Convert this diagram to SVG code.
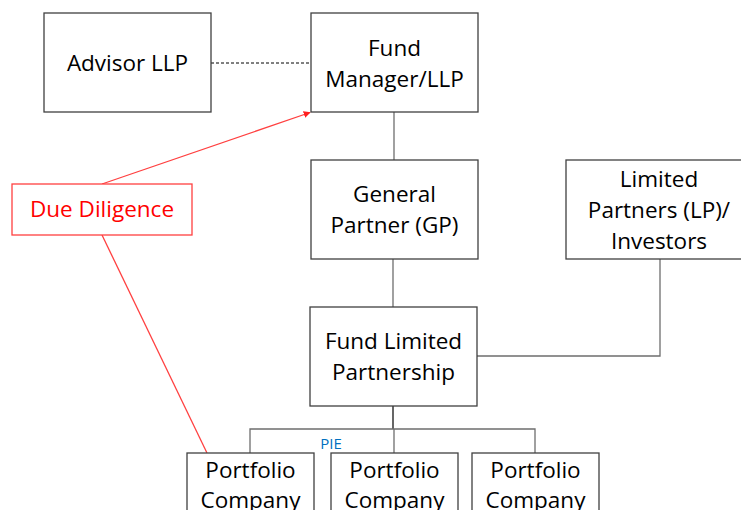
<svg xmlns="http://www.w3.org/2000/svg" width="741" height="510" viewBox="0 0 741 510">
<style>
.box{fill:#fff;stroke:#404040;stroke-width:1.3}
.t{font-family:"Open Sans","Liberation Sans",sans-serif;font-size:22.5px;fill:#000;text-anchor:middle}
.c{fill:none;stroke:#6e6e6e;stroke-width:1.3}
.r{fill:none;stroke:#ff4040;stroke-width:1.3}
</style>
<defs>
<marker id="ah" viewBox="0 0 10 10" refX="9" refY="5" markerWidth="7" markerHeight="7" orient="auto" markerUnits="userSpaceOnUse">
<path d="M0,0L10,5L0,10z" fill="#ff2020"/>
</marker>
</defs>
<rect width="741" height="510" fill="#fff"/>
<g id="connectors">
<line x1="211" y1="63" x2="311" y2="63" stroke="#000" stroke-width="1" stroke-dasharray="3,2"/>
<line class="c" x1="394" y1="112" x2="394" y2="160"/>
<line class="c" x1="393" y1="259" x2="393" y2="307"/>
<polyline class="c" points="477,356 660,356 660,259"/>
<line x1="393" y1="406" x2="393" y2="429" stroke="#404040" stroke-width="1.6"/>
<polyline class="c" points="250,453 250,429 535,429 535,453"/>
<line class="c" x1="394" y1="429" x2="394" y2="453"/>
<line class="r" x1="102" y1="184" x2="310" y2="112.5" marker-end="url(#ah)"/>
<line class="r" x1="102" y1="235" x2="207" y2="453"/>
</g>
<g id="advisor">
<rect class="box" x="44" y="13" width="167" height="99"/>
<text class="t" x="127.5" y="71">Advisor LLP</text>
</g>
<g id="fund-manager">
<rect class="box" x="311" y="13" width="167" height="99"/>
<text class="t" x="394.5" y="56">Fund</text>
<text class="t" x="394.5" y="87">Manager/LLP</text>
</g>
<g id="general-partner">
<rect class="box" x="311" y="160" width="167" height="99"/>
<text class="t" x="394.5" y="202">General</text>
<text class="t" x="394.5" y="233">Partner (GP)</text>
</g>
<g id="limited-partners">
<rect class="box" x="566" y="160" width="180" height="99"/>
<text class="t" x="659" y="187">Limited</text>
<text class="t" x="659" y="218">Partners (LP)/</text>
<text class="t" x="659" y="249">Investors</text>
</g>
<g id="fund-lp">
<rect class="box" x="310" y="307" width="167" height="99"/>
<text class="t" x="393.5" y="349">Fund Limited</text>
<text class="t" x="393.5" y="380">Partnership</text>
</g>
<g id="due-diligence">
<rect x="12" y="184" width="180" height="51" fill="#fff" stroke="#ff4040" stroke-width="1.3"/>
<text class="t" x="102" y="217" style="fill:#ff0000">Due Diligence</text>
</g>
<g id="pie-label">
<text x="331" y="449" font-family="'Open Sans','Liberation Sans',sans-serif" font-size="15" fill="#0070c0" text-anchor="middle">PIE</text>
</g>
<g id="portfolio-1">
<rect class="box" x="187" y="453" width="127" height="70"/>
<text class="t" x="250.5" y="478">Portfolio</text>
<text class="t" x="250.5" y="508">Company</text>
</g>
<g id="portfolio-2">
<rect class="box" x="331" y="453" width="127" height="70"/>
<text class="t" x="394.5" y="478">Portfolio</text>
<text class="t" x="394.5" y="508">Company</text>
</g>
<g id="portfolio-3">
<rect class="box" x="472" y="453" width="127" height="70"/>
<text class="t" x="535.5" y="478">Portfolio</text>
<text class="t" x="535.5" y="508">Company</text>
</g>
</svg>
